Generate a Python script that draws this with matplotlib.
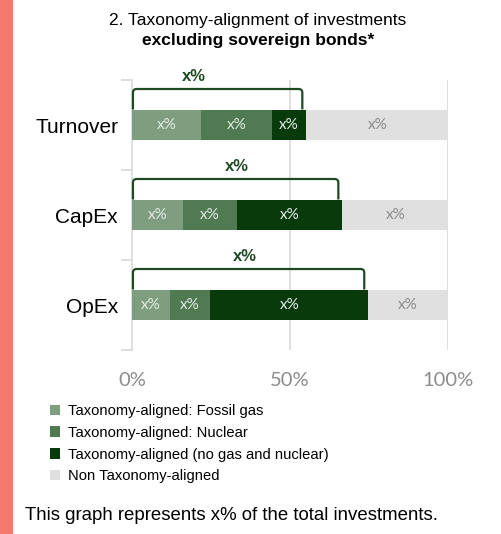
import matplotlib
matplotlib.use("Agg")
import matplotlib.pyplot as plt
from matplotlib.patches import Rectangle, Patch
from matplotlib.path import Path
from matplotlib.patches import PathPatch

# ---------------- data ----------------
categories = ["Turnover", "CapEx", "OpEx"]
fossil_gas = [21.8, 16.2, 12.0]
nuclear = [22.4, 16.9, 12.7]
aligned_other = [11.0, 33.5, 50.1]
non_aligned = [44.8, 33.4, 25.2]
segment_labels = ["x%", "x%", "x%", "x%"]
total_labels = ["x%", "x%", "x%"]
series_names = ["Taxonomy-aligned: Fossil gas", "Taxonomy-aligned: Nuclear",
                "Taxonomy-aligned (no gas and nuclear)", "Non Taxonomy-aligned"]
xticks = [0, 50, 100]
xtick_labels = ["0%", "50%", "100%"]

# ---------------- style ----------------
colors = ["#7f9e80", "#4f7a52", "#083a0b", "#e0e0e0"]
text_colors = ["#e4ebe4", "#e4ebe4", "#e8efe8", "#8a8a8a"]
bracket_color = "#1d4a22"
total_label_x = [19.6, 33.2, 35.8]

W, H = 501, 534
fig = plt.figure(figsize=(W / 100, H / 100), dpi=100)
fig.patch.set_facecolor("white")

# salmon strip
fig.add_artist(Rectangle((0, 0), 13 / W, 1, transform=fig.transFigure,
                         facecolor="#f47b6b", edgecolor="none"))

ax = fig.add_axes([132 / W, 1 - 350 / H, 316 / W, 270 / H])
ax.set_xlim(0, 100)
ax.set_ylim(2.5, -0.5)

bar_h = 0.344
ypos = list(range(len(categories)))
series = [fossil_gas, nuclear, aligned_other, non_aligned]
left = [0.0] * len(categories)
for s, vals in enumerate(series):
    ax.barh(ypos, vals, left=left, height=bar_h, color=colors[s],
            edgecolor="none", zorder=3)
    for i, v in enumerate(vals):
        ax.text(left[i] + v / 2, ypos[i], segment_labels[s], ha="center",
                va="center", fontsize=11, family="Lato",
                color=text_colors[s], zorder=4)
    left = [l + v for l, v in zip(left, vals)]

# brackets over aligned totals
for i in range(len(categories)):
    total = fossil_gas[i] + nuclear[i] + aligned_other[i]
    x0 = 0.3
    x1 = total - 1.3
    yb = ypos[i] - bar_h / 2
    yt = ypos[i] - 0.40
    rx, ry = 1.2, 0.04
    verts = [(x0, yb), (x0, yt + ry), (x0, yt), (x0 + rx, yt),
             (x1 - rx, yt), (x1, yt), (x1, yt + ry), (x1, yb)]
    codes = [Path.MOVETO, Path.LINETO, Path.CURVE3, Path.CURVE3,
             Path.LINETO, Path.CURVE3, Path.CURVE3, Path.LINETO]
    ax.add_patch(PathPatch(Path(verts, codes), facecolor="none",
                           edgecolor=bracket_color, lw=1.6, zorder=5,
                           clip_on=False, capstyle="butt", joinstyle="round"))
    ax.text(total_label_x[i], ypos[i] - 0.54, total_labels[i], ha="center",
            va="center", fontsize=12, fontweight="bold", family="Liberation Sans",
            color=bracket_color, clip_on=False)

# grid / spines
for s in ["top", "right", "bottom"]:
    ax.spines[s].set_visible(False)
ax.spines["left"].set_color("#d9d9d9")
ax.spines["left"].set_linewidth(1.2)
for xv in xticks[1:]:
    ax.axvline(xv, color="#d9d9d9", lw=1.2, zorder=1)

ax.set_xticks(xticks)
ax.set_xticklabels(xtick_labels, family="Lato", fontsize=14.5, color="#8c8c8c")
ax.tick_params(axis="x", length=0, pad=16)

ax.set_yticks(ypos)
ax.set_yticklabels(categories, family="Liberation Sans", fontsize=15, color="black")
ax.tick_params(axis="y", which="major", length=0, pad=10)
ax.set_yticks([-0.5, 0.5, 1.5, 2.5], minor=True)
ax.tick_params(axis="y", which="minor", length=8, width=1.2, color="#d9d9d9")

# title
fig.text(258 / W, 1 - 21 / H, "2. Taxonomy-alignment of investments",
         ha="center", va="center", fontsize=12.5, family="Liberation Sans")
fig.text(258 / W, 1 - 40 / H, "excluding sovereign bonds*", ha="center",
         va="center", fontsize=12.5, fontweight="bold", family="Liberation Sans")

# legend
handles = [Patch(facecolor=c, edgecolor="none") for c in colors]
fig.legend(handles, series_names, loc="upper left",
           bbox_to_anchor=(50 / W, 1 - 404 / H), frameon=False,
           prop={"family": "Liberation Sans", "size": 10.6},
           handlelength=0.7, handleheight=0.7, handletextpad=0.5,
           labelspacing=0.53, borderpad=0, borderaxespad=0)

# footer
fig.text(25 / W, 1 - 515 / H, "This graph represents x% of the total investments.",
         ha="left", va="center", fontsize=13.4, family="Liberation Sans")

fig.savefig("out.png", dpi=100)
